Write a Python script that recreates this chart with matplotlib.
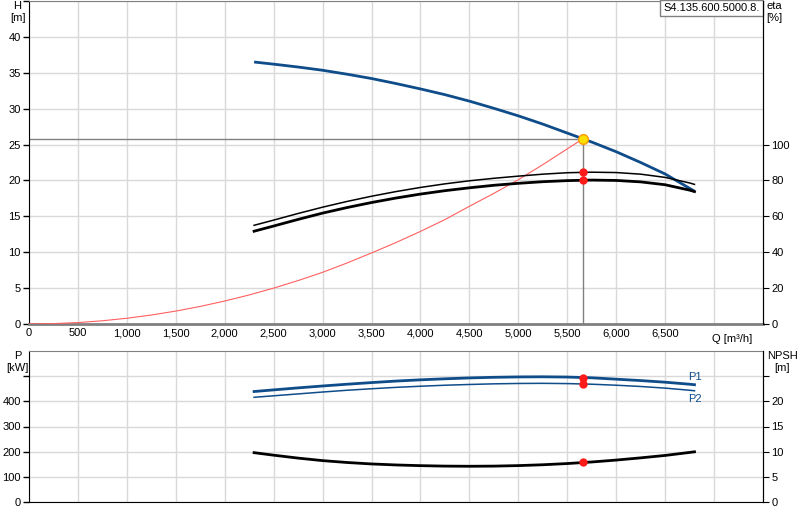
import matplotlib
matplotlib.use("Agg")
import matplotlib.pyplot as plt
from matplotlib.ticker import FixedLocator, FixedFormatter

plt.rcParams['font.family'] = ['Liberation Sans', 'DejaVu Sans']
plt.rcParams['font.size'] = 8

# ---- data ----
q_pump = [2300, 2500, 2750, 3000, 3250, 3500, 3750, 4000, 4250, 4500,
          4750, 5000, 5250, 5500, 5750, 6000, 6250, 6500, 6750, 6800]
head = [36.5, 36.2, 35.8, 35.35, 34.8, 34.2, 33.5, 32.75, 31.95, 31.05,
        30.05, 29.0, 27.85, 26.6, 25.35, 24.0, 22.5, 20.9, 18.9, 18.5]
eta_thin = [55.0, 57.9, 61.6, 65.1, 68.3, 71.2, 73.8, 76.1, 78.1, 79.8,
            81.2, 82.4, 83.5, 84.3, 84.6, 84.4, 83.5, 81.7, 78.6, 77.8]
eta_thick = [51.7, 54.6, 58.3, 61.8, 64.9, 67.7, 70.2, 72.4, 74.3, 75.9,
             77.3, 78.4, 79.3, 79.9, 80.2, 80.0, 79.2, 77.6, 74.6, 73.8]
p1 = [439, 445.5, 453.5, 461, 468, 474.5, 480.5, 485.5, 489.5, 493,
      495.5, 497, 497.5, 496.5, 493.5, 488, 482.5, 476, 468, 466]
p2 = [416, 422, 429.5, 437, 444, 450, 455.5, 460, 464, 467,
      469.5, 471, 471.5, 470.5, 468, 464, 459, 452.5, 444, 442]
npsh = [9.8, 9.3, 8.72, 8.22, 7.85, 7.56, 7.36, 7.22, 7.13, 7.1,
        7.13, 7.23, 7.4, 7.64, 7.95, 8.33, 8.77, 9.25, 9.85, 9.97]

q_sys = [0, 250, 500, 750, 1000, 1250, 1500, 1750, 2000, 2250, 2500, 2750,
         3000, 3250, 3500, 3750, 4000, 4250, 4500, 4750, 5000, 5250, 5500, 5660]
h_sys = [0.0, 0.05, 0.2, 0.45, 0.8, 1.25, 1.8, 2.45, 3.2, 4.05, 5.0, 6.05,
         7.2, 8.5, 9.9, 11.35, 12.9, 14.55, 16.4, 18.2, 20.1, 22.2, 24.4, 25.8]

q_op = 5660
h_op = 25.8
eta_op_thin = 84.5
eta_op_thick = 80.1
p1_op = 494.5
p2_op = 469
npsh_op = 7.85

x_ticks = list(range(0, 7001, 500))
x_labels = ["0", "500", "1,000", "1,500", "2,000", "2,500", "3,000", "3,500",
            "4,000", "4,500", "5,000", "5,500", "6,000", "6,500", ""]
h_ticks = [0, 5, 10, 15, 20, 25, 30, 35, 40]
eta_ticks = [0, 20, 40, 60, 80, 100]
p_ticks = [0, 100, 200, 300, 400, 500]
p_labels = ["0", "100", "200", "300", "400", ""]
n_ticks = [0, 5, 10, 15, 20, 25]
n_labels = ["0", "5", "10", "15", "20", ""]
model = "S4.135.600.5000.8."

BLUE = '#0f4c8a'
GRID = '#d9d9d9'
GREY = '#808080'
RED = '#ff1a1a'

fig = plt.figure(figsize=(8, 5.2), dpi=100)
W, H = 800, 520
L, R = 29, 763
ax = fig.add_axes([L / W, (H - 324) / H, (R - L) / W, 323 / H])
axb = fig.add_axes([L / W, (H - 502) / H, (R - L) / W, 151 / H])

for a in (ax, axb):
    a.set_xlim(0, 7500)
    a.xaxis.set_major_locator(FixedLocator(x_ticks))
    a.grid(True, color=GRID, lw=1)
    a.set_axisbelow(True)
    a.spines['top'].set_color(GREY)
    a.spines['left'].set_color('black')
    a.spines['right'].set_color('black')
    a.tick_params(length=4, width=1, pad=2, labelsize=8, colors='black')

# upper
ax.set_ylim(0, 45)
ax.yaxis.set_major_locator(FixedLocator(h_ticks + [45]))
ax.yaxis.set_major_formatter(FixedFormatter([str(t) for t in h_ticks] + [""]))
ax.xaxis.set_major_formatter(FixedFormatter(x_labels))
ax.spines['bottom'].set_color(GREY)
ax.spines['bottom'].set_linewidth(2)
ax.tick_params(axis='x', length=0, pad=3)
ax2 = ax.twinx()
ax2.set_ylim(0, 180)
ax2.yaxis.set_major_locator(FixedLocator(eta_ticks))
ax2.tick_params(length=4, pad=2, labelsize=8)
for s in ('top', 'bottom', 'left'):
    ax2.spines[s].set_visible(False)

ax.plot([0, q_op], [h_op, h_op], color=GREY, lw=1, zorder=2)
ax.plot([q_op, q_op], [0, h_op], color=GREY, lw=1, zorder=2)
ax.plot(q_sys, h_sys, color='#ff6060', lw=0.8, zorder=3)
ax.plot(q_pump, head, color=BLUE, lw=2, zorder=4, solid_capstyle='butt')
ax2.plot(q_pump, eta_thin, color='black', lw=1.1, zorder=4)
ax2.plot(q_pump, eta_thick, color='black', lw=2, zorder=4)
ax2.plot([q_op, q_op], [eta_op_thin, eta_op_thick], 'o', color=RED, ms=5, zorder=6)
ax2.plot([q_op], [h_op * 4], 'o', mfc='#ffe000', mec='#ff9900', mew=1, ms=7, zorder=7)

ax.text(-0.0155, 1.0, "H\n[m]", transform=ax.transAxes, ha='center', va='top',
        fontsize=8, linespacing=1.3)
ax.text(1.016, 1.0, "eta\n[%]", transform=ax.transAxes, ha='center', va='top',
        fontsize=8, linespacing=1.3)
ax.text(0.985, -0.03, "Q [m³/h]", transform=ax.transAxes, ha='right', va='top', fontsize=8)
ax.text(0.996, 0.994, model, transform=ax.transAxes, ha='right', va='top', fontsize=8,
        bbox=dict(boxstyle='square,pad=0.3', fc='white', ec=GREY, lw=1), zorder=10)

# lower
axb.set_ylim(0, 600)
axb.yaxis.set_major_locator(FixedLocator(p_ticks))
axb.yaxis.set_major_formatter(FixedFormatter(p_labels))
axb.tick_params(axis='x', length=0, labelbottom=False)
axb.spines['bottom'].set_color('black')
axb3 = axb.twinx()
axb3.set_ylim(0, 30)
axb3.yaxis.set_major_locator(FixedLocator(n_ticks))
axb3.yaxis.set_major_formatter(FixedFormatter(n_labels))
axb3.tick_params(length=4, pad=2, labelsize=8)
for s in ('top', 'bottom', 'left'):
    axb3.spines[s].set_visible(False)

axb.plot(q_pump, p1, color=BLUE, lw=2, zorder=4)
axb.plot(q_pump, p2, color=BLUE, lw=1.1, zorder=4)
axb3.plot(q_pump, npsh, color='black', lw=2, zorder=4)
axb.plot([q_op, q_op], [p1_op, p2_op], 'o', color=RED, ms=5, zorder=6)
axb3.plot([q_op], [npsh_op], 'o', color=RED, ms=5, zorder=6)
axb.text(q_pump[-1], p1[-1] + 12, "P1", color=BLUE, fontsize=8, ha='center', va='bottom')
axb.text(q_pump[-1], p2[-1] - 12, "P2", color=BLUE, fontsize=8, ha='center', va='top')

axb.text(-0.0155, 1.0, "P\n[kW]", transform=axb.transAxes, ha='center', va='top',
         fontsize=8, linespacing=1.3)
axb.text(1.026, 1.0, "NPSH\n[m]", transform=axb.transAxes, ha='center', va='top',
         fontsize=8, linespacing=1.3)

fig.savefig("out.png", dpi=100)
